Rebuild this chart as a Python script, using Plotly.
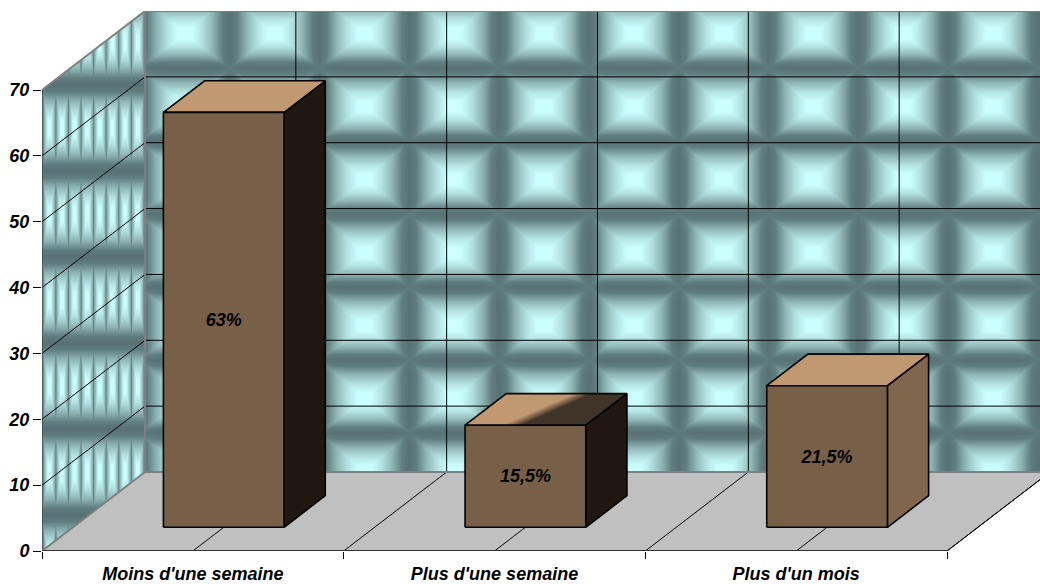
import numpy as np
import plotly.graph_objects as go

# Chart data
categories = ["Moins d'une semaine", "Plus d'une semaine", "Plus d'un mois"]
shares = [63, 15.5, 21.5]
bar_labels = ["63%", "15,5%", "21,5%"]
value_ticks = [0, 10, 20, 30, 40, 50, 60, 70]

# Frame of the plot in page pixels
WIDTH, HEIGHT = 1040, 584
LEFT, BASE, TOP = 42, 551, 11
CAT_PX = 905 / 3
WALL_PX = 461
VAL_PX = WALL_PX / 70
DEPTH_PX_X, DEPTH_PX_Y = 103, 79

# Oblique projection: one unit of depth shifts a point back and to the right
DEPTH_X = DEPTH_PX_X / CAT_PX
DEPTH_Y = DEPTH_PX_Y / VAL_PX
BAR_WIDTH = 0.4
Z_FRONT, Z_BACK = 0.3, 0.7
VAL_MAX = 70
FONT = "Liberation Sans"

FRONT = "#786048"
TOP_FACE = "#c09872"
TOP_SHADE = "#403428"
SIDE_COLORS = ["#201810", "#201810", "#7f664c"]
WALL_SCALE = [[0, "#587274"], [0.16, "#5f7d7f"], [0.38, "#8fb5b5"], [0.62, "#b4e2e2"], [0.85, "#ccffff"], [1, "#ccffff"]]


def proj(x, v, z):
    return x + z * DEPTH_X, v + z * DEPTH_Y


def polygon(points, fill, line="#000000", width=1.6):
    xs, ys = zip(*[proj(*p) for p in points])
    return go.Scatter(
        x=list(xs) + [xs[0]], y=list(ys) + [ys[0]], mode="lines", fill="toself",
        fillcolor=fill, line=dict(color=line, width=width), hoverinfo="skip",
        showlegend=False, cliponaxis=False,
    )


def lines(segments, color="#000000", width=1):
    xs, ys = [], []
    for a, b in segments:
        ax, ay = proj(*a)
        bx, by = proj(*b)
        xs += [ax, bx, None]
        ys += [ay, by, None]
    return go.Scatter(
        x=xs, y=ys, mode="lines", line=dict(color=color, width=width),
        hoverinfo="skip", showlegend=False, cliponaxis=False,
    )


def wall_shading():
    """Bevelled tile texture for the back and side walls, one cell per pixel."""
    cols = WIDTH - LEFT
    rows = BASE - TOP
    px, py = np.meshgrid(LEFT + np.arange(cols) + 0.5, BASE - np.arange(rows) - 0.5)

    # back wall tiles, slightly asymmetric in height, corners a little lifted
    back_x = np.abs(((px - 140) / 89.8) % 1 - 0.5) * 2
    phase = (py - 68) % 73
    back_y = np.where(phase < 39, (39 - phase) / 39, (phase - 39) / 34)
    back = 1 - np.maximum(back_x, back_y) + 0.12 * np.minimum(back_x, back_y) ** 6

    # side wall tiles, squeezed horizontally
    side_x = np.abs(((px - 49.5) / 12.6 + 0.5) % 1 - 0.5) * 2
    side_y = np.abs(((py - 42) / 86 + 0.5) % 1 - 0.5) * 2
    side = 1 - np.maximum(0.8 * side_x, side_y)

    slope = (px - LEFT) * DEPTH_PX_Y / DEPTH_PX_X
    in_back = (px >= LEFT + DEPTH_PX_X) & (py <= BASE - DEPTH_PX_Y)
    in_side = (px < LEFT + DEPTH_PX_X) & (py >= BASE - WALL_PX - slope) & (py <= BASE - slope)
    return np.where(in_back, back, np.where(in_side, side, np.nan))


fig = go.Figure()

fig.add_trace(go.Heatmap(
    z=wall_shading(),
    x0=0.5 / CAT_PX, dx=1 / CAT_PX,
    y0=0.5 / VAL_PX, dy=1 / VAL_PX,
    colorscale=WALL_SCALE, zmin=0, zmax=1, showscale=False, hoverinfo="skip",
))

# Floor
fig.add_trace(polygon([(0, 0, 0), (3, 0, 0), (3, 0, 1), (0, 0, 1)], "#c0c0c0", line="rgba(0,0,0,0)", width=0))

half_steps = [i / 2 for i in range(7)]
fig.add_trace(lines([((s, 0, 0), (s, 0, 1)) for s in half_steps[1:]]))
fig.add_trace(lines([((s, 0, 1), (s, VAL_MAX, 1)) for s in half_steps[1:]]))
fig.add_trace(lines([((0, v, 1), (3, v, 1)) for v in value_ticks[1:-1]] +
                    [((0, v, 0), (0, v, 1)) for v in value_ticks[1:-1]]))

# Wall borders
fig.add_trace(lines([
    ((0, 0, 1), (3, 0, 1)), ((0, 0, 1), (0, VAL_MAX, 1)), ((0, VAL_MAX, 1), (3, VAL_MAX, 1)),
    ((0, VAL_MAX, 0), (0, VAL_MAX, 1)), ((0, 0, 0), (0, 0, 1)),
], color="#808080", width=2))

# Bars
for i, (value, label) in enumerate(zip(shares, bar_labels)):
    x0 = i + 0.5 - BAR_WIDTH / 2
    x1 = x0 + BAR_WIDTH
    fig.add_trace(polygon([(x1, 0, Z_FRONT), (x1, 0, Z_BACK), (x1, value, Z_BACK), (x1, value, Z_FRONT)], SIDE_COLORS[i]))
    top_corners = [(x0, value, Z_FRONT), (x1, value, Z_FRONT), (x1, value, Z_BACK), (x0, value, Z_BACK)]
    if i == 1:
        # Shadow falling across the top of the middle bar
        fig.add_trace(polygon(top_corners, TOP_SHADE, line="rgba(0,0,0,0)", width=0))
        dark, light = np.array([0x40, 0x34, 0x28]), np.array([0xc0, 0x98, 0x72])
        for k, t in enumerate(np.linspace(0.07, -0.07, 9)):
            c = dark + (light - dark) * (k + 1) / 9
            a = BAR_WIDTH * (0.39 + t)
            b = BAR_WIDTH * (0.64 + t)
            fig.add_trace(polygon(
                [(x0, value, Z_FRONT), (x0 + a, value, Z_FRONT), (x0 + b, value, Z_BACK), (x0, value, Z_BACK)],
                "rgb(%d,%d,%d)" % tuple(c), line="rgba(0,0,0,0)", width=0,
            ))
        fig.add_trace(polygon(top_corners, "rgba(0,0,0,0)"))
    else:
        fig.add_trace(polygon(top_corners, TOP_FACE))
    fig.add_trace(polygon([(x0, 0, Z_FRONT), (x1, 0, Z_FRONT), (x1, value, Z_FRONT), (x0, value, Z_FRONT)], FRONT))

    tx, ty = proj(i + 0.5, value / 2 - 0.25, Z_FRONT)
    fig.add_trace(go.Scatter(
        x=[tx], y=[ty], mode="text", text=[label], textposition="middle center",
        textfont=dict(family=FONT, size=18, color="#000000", weight="bold", style="italic"),
        hoverinfo="skip", showlegend=False, cliponaxis=False,
    ))

# Front axis lines and the open right edge of the floor
fig.add_trace(lines([((3, 0, 0), (3, 0, 1))]))
fig.add_trace(lines([((0, 0, 0), (0, VAL_MAX, 0))], color="#333333", width=1.2))
fig.add_trace(lines([((0, 0, 0), (3, 0, 0))], color="#333333", width=2))

tick_font = dict(family=FONT, size=18, color="#000000", weight="bold", style="italic")

fig.update_layout(
    width=WIDTH, height=HEIGHT,
    margin=dict(l=LEFT, r=0, t=TOP, b=HEIGHT - BASE, pad=0),
    paper_bgcolor="#ffffff", plot_bgcolor="#ffffff",
    showlegend=False, hovermode=False,
    xaxis=dict(
        range=[0, (WIDTH - LEFT) / CAT_PX], showgrid=False, zeroline=False, showline=False,
        tickmode="array", tickvals=[0.5, 1.5, 2.5], ticktext=categories, tickfont=tick_font,
        ticks="outside", ticklen=6, tickcolor="rgba(0,0,0,0)",
        minor=dict(tickmode="array", tickvals=[0, 1, 2, 3], ticks="outside", ticklen=7, tickcolor="#000000", tickwidth=1),
    ),
    yaxis=dict(
        range=[0, (BASE - TOP) / VAL_PX], showgrid=False, zeroline=False, showline=False,
        tickmode="array", tickvals=value_ticks, tickfont=tick_font,
        ticks="outside", ticklen=8, tickcolor="#000000", tickwidth=1,
    ),
)

fig.write_html("out.html", config=dict(displayModeBar=False))
